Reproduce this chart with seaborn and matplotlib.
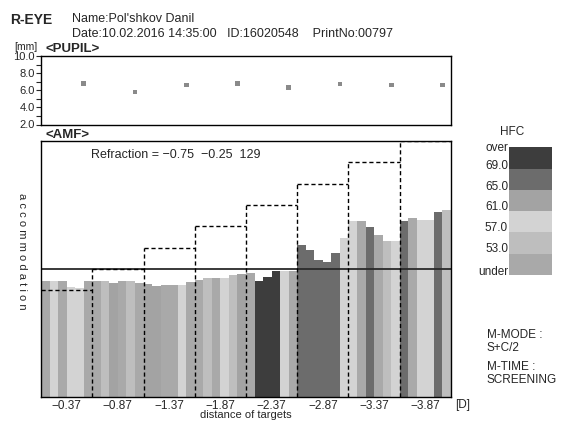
import numpy as np
import pandas as pd
import matplotlib
matplotlib.use("Agg")
import matplotlib.pyplot as plt
from matplotlib.colors import ListedColormap
import seaborn as sns

# ==========================================
# Data
# ==========================================

targets = ["−0.37", "−0.87", "−1.37", "−1.87", "−2.37", "−2.87", "−3.37", "−3.87"]
target_levels = [2.5, 3.0, 3.5, 4.0, 4.5, 5.0, 5.5, 6.0]   # stimulus step (dashed)
refraction_level = 3.0                                     # S+C/2 reference line

pupil_mm = [6.8, 5.8, 6.6, 6.8, 6.3, 6.75, 6.6, 6.6]

# six measurements per target
amf_heights = [
    2.72, 2.72, 2.72, 2.58, 2.56, 2.72,
    2.72, 2.72, 2.67, 2.72, 2.72, 2.67,
    2.65, 2.60, 2.62, 2.62, 2.62, 2.69,
    2.74, 2.78, 2.79, 2.79, 2.85, 2.88,
    2.90, 2.72, 2.82, 2.96, 2.96, 2.96,
    3.56, 3.45, 3.21, 3.16, 3.38, 3.72,
    4.13, 4.13, 3.99, 3.79, 3.66, 3.66,
    4.13, 4.19, 4.16, 4.16, 4.33, 4.39,
]
hfc_class = [
    0, 2, 0, 2, 2, 0,
    0, 1, 3, 0, 1, 0,
    3, 3, 0, 0, 2, 0,
    0, 1, 0, 2, 1, 3,
    0, 5, 5, 5, 2, 0,
    4, 4, 4, 4, 4, 2,
    2, 0, 4, 0, 1, 2,
    4, 0, 2, 2, 4, 1,
]
hfc_names = ["under", "53-57", "57-61", "61-65", "65-69", "over"]
hfc_colors = ["#a9a9a9", "#bebebe", "#d3d3d3", "#a3a3a3", "#6c6c6c", "#3d3d3d"]
hfc_ticks = ["over", "69.0", "65.0", "61.0", "57.0", "53.0", "under"]

# ==========================================
# Figure
# ==========================================

sns.set_style("white")
plt.rcParams["font.family"] = ["Liberation Sans", "DejaVu Sans"]

W, H = 562, 421
fig = plt.figure(figsize=(W / 100, H / 100), dpi=100)


def box(l, t, r, b):
    return [l / W, 1 - b / H, (r - l) / W, (b - t) / H]


def ftext(x, y, s, **kw):
    kw.setdefault("fontsize", 8.5)
    kw.setdefault("va", "center")
    fig.text(x / W, 1 - y / H, s, **kw)


n_per = 6
n_bars = len(amf_heights)

# ---------- PUPIL ----------
ax_p = fig.add_axes(box(41, 56, 451, 124.5))
pupil_x = np.arange(len(pupil_mm)) * n_per + 4.5
sns.scatterplot(x=pupil_x, y=pupil_mm, marker="s", s=11, color="#8a8a8a",
                edgecolor="none", ax=ax_p)
ax_p.set_xlim(-0.5, n_bars - 0.5)
ax_p.set_ylim(2, 10)
ax_p.set_xticks([])
ax_p.set_yticks([2, 4, 6, 8, 10])
ax_p.set_yticklabels(["2.0", "4.0", "6.0", "8.0", "10.0"])
ax_p.set_yticks([3, 5, 7, 9], minor=True)
ax_p.tick_params(axis="y", which="both", direction="out", length=3.5,
                 width=0.8, pad=1, labelsize=8, left=True)
for sp in ax_p.spines.values():
    sp.set_color("black")
    sp.set_linewidth(1.0)

# ---------- AMF ----------
ax = fig.add_axes(box(41, 141, 451, 397))
df = pd.DataFrame({
    "bar": np.arange(n_bars),
    "h": amf_heights,
    "hfc": [hfc_names[c] for c in hfc_class],
})
sns.barplot(data=df, x="bar", y="h", hue="hfc",
            palette=dict(zip(hfc_names, hfc_colors)),
            width=1, dodge=False, linewidth=0, errorbar=None,
            legend=False, ax=ax)
ax.set_xlim(-0.5, n_bars - 0.5)
ax.set_ylim(0, 6)
ax.set_yticks([])
ax.set_xticks(np.arange(len(targets)) * n_per + 2.5)
ax.set_xticklabels(targets)
ax.tick_params(axis="x", length=0, pad=2, labelsize=8.5)
ax.set_xlabel("")
ax.set_ylabel("")

ax.axhline(refraction_level, color="#2a2a2a", lw=1.3, zorder=5)
dash = (0, (3, 2))
for i, lev in enumerate(target_levels):
    ax.hlines(lev, i * n_per - 0.5, (i + 1) * n_per - 0.5, colors="black",
              linestyles=dash, lw=1.0, zorder=6)
    if i > 0:
        top = max(lev, target_levels[i - 1])
        ax.vlines(i * n_per - 0.5, 0, top, colors="black",
                  linestyles=dash, lw=1.0, zorder=6)
for sp in ax.spines.values():
    sp.set_color("black")
    sp.set_linewidth(1.0)
    sp.set_zorder(7)

# ---------- HFC legend ----------
ax_l = fig.add_axes(box(509.3, 147.3, 551.7, 275))
sns.heatmap(np.arange(len(hfc_colors))[::-1].reshape(-1, 1),
            cmap=ListedColormap(hfc_colors), vmin=-0.5,
            vmax=len(hfc_colors) - 0.5, cbar=False,
            xticklabels=False, yticklabels=False, ax=ax_l)
for lab, y in zip(hfc_ticks, [148, 165.7, 186.7, 207, 228, 249, 272]):
    ftext(508, y, lab, ha="right")
ftext(512, 131.7, "HFC", ha="center")

# ---------- texts ----------
ftext(10, 20, "R-EYE", fontsize=10, fontweight="bold")
ftext(72, 19, "Name:Pol'shkov Danil", fontsize=9)
ftext(72, 34, "Date:10.02.2016 14:35:00   ID:16020548    PrintNo:00797", fontsize=9)
ftext(14, 46.5, "[mm]", fontsize=7.5)
ftext(45, 49, "<PUPIL>", fontsize=9.5, fontweight="bold")
ftext(46, 135, "<AMF>", fontsize=9.5, fontweight="bold")
ftext(91, 155, "Refraction = −0.75  −0.25  129", fontsize=9)
ftext(21.7, 251.5, " ".join("accommodation"), fontsize=8,
      rotation=270, ha="center")
ftext(246, 415.5, "distance of targets", fontsize=8, ha="center")
ftext(455, 405, "[D]")
ftext(486.7, 335, "M-MODE :")
ftext(486.7, 347.7, "S+C/2")
ftext(486.7, 367.3, "M-TIME :")
ftext(486.7, 380, "SCREENING")

fig.savefig("out.png", dpi=100)
